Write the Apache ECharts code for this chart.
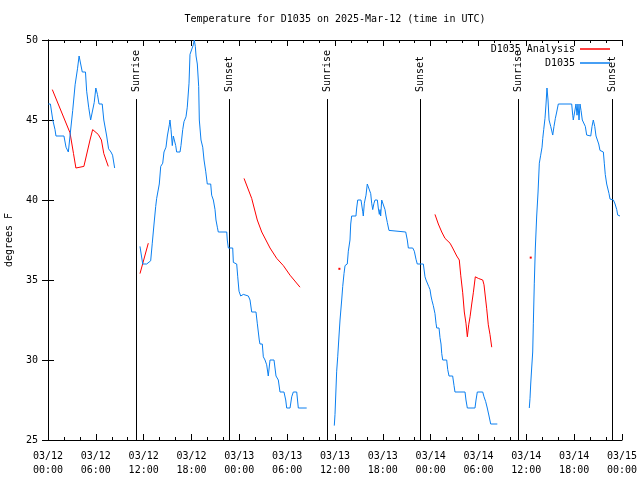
<!DOCTYPE html>
<html>
<head>
<meta charset="utf-8">
<script src="https://cdn.jsdelivr.net/npm/echarts@6/dist/echarts.min.js"></script>
<style>html,body{margin:0;padding:0;background:#fff;}#c{width:640px;height:480px;}</style>
</head>
<body>
<div id="c"></div>
<script>
// Time in hours since 2025-03-12 00:00 UTC
const obsSeg1 = [[0.04,46],[0.3,46],[0.6,45],[0.88,44.4],[1.0,44],[2.0,44],[2.26,43.3],[2.55,43],[2.76,44],[3.1,45.6],[3.4,47.2],[3.7,48.2],[3.9,49],[4.05,49],[4.3,48],[4.7,48],[4.85,46.8],[5.1,45.8],[5.35,45],[5.6,45],[5.8,46.1],[6.0,47],[6.2,46.6],[6.4,46],[6.8,46],[7.0,45],[7.36,44],[7.6,43.2],[7.9,43],[8.1,42.8],[8.3,42.7],[8.36,42]];
const obsSeg2 = [[11.54,37.1],[11.88,36],[12.38,36],[12.88,36.2],[13.08,37.3],[13.3,38.5],[13.51,39.6],[13.63,40.1],[13.96,41],[14.14,42.1],[14.39,42.3],[14.55,43],[14.8,43.3],[14.97,44],[15.22,44.7],[15.3,45],[15.43,44.4],[15.59,43.4],[15.72,44],[15.84,44.1],[16.02,43.4],[16.14,43],[16.56,43],[16.68,43.4],[16.9,44.4],[17.06,44.9],[17.19,45],[17.31,45.2],[17.47,45.8],[17.69,47.3],[17.81,49.1],[18.03,49],[18.23,49.7],[18.35,50],[18.48,49.6],[18.57,49],[18.73,48.5],[18.9,47.1],[18.98,45],[19.19,43.75],[19.41,43.3],[19.57,42.5],[19.78,41.8],[19.98,41],[20.41,41],[20.53,40.3],[20.74,40],[20.95,39.4],[21.07,38.75],[21.24,38.3],[21.36,38],[22.42,38],[22.49,37.5],[22.62,37],[23.17,37],[23.25,36.1],[23.46,36],[23.67,36],[23.8,35.2],[23.96,34.3],[24.17,34],[24.5,34.1],[25.13,34],[25.34,33.75],[25.55,33],[26.09,33],[26.25,32.3],[26.5,31.25],[26.59,31],[26.88,31],[27.01,30.2],[27.22,30],[27.43,29.7],[27.63,29],[27.85,30],[28.35,30],[28.6,29],[28.89,28.75],[29.1,28],[29.6,28],[29.82,27.5],[29.94,27],[30.36,27],[30.57,27.7],[30.77,28],[31.2,28],[31.4,27],[32.45,27]];
const obsSeg3 = [[35.91,25.9],[36.0,26.6],[36.09,27.75],[36.21,29.3],[36.34,30.2],[36.5,31.5],[36.63,32.5],[36.84,33.75],[36.97,34.6],[37.13,35.4],[37.26,35.9],[37.54,36],[37.67,36.8],[37.88,37.5],[37.97,38.5],[38.09,39],[38.63,39],[38.72,39.5],[38.85,40],[39.26,40],[39.47,39.3],[39.55,39],[39.68,39.8],[39.89,40.3],[40.05,41],[40.3,41],[40.48,40.4],[40.6,39.8],[40.73,39.4],[40.89,39.8],[41.02,40],[41.31,40],[41.43,39.5],[41.56,39.1],[41.65,39.4],[41.73,39],[41.86,40],[42.06,40],[42.27,39.4],[42.4,39],[42.56,38.6],[42.77,38.1],[42.9,38],[44.87,38],[45.07,37.5],[45.2,37],[45.75,37],[45.95,36.8],[46.16,36.3],[46.32,36],[47.08,36],[47.29,35.2],[47.42,35],[47.63,35],[47.75,34.6],[47.92,34.4],[48.04,34],[48.17,33.7],[48.33,33.4],[48.54,32.9],[48.67,32.3],[48.76,32],[49.05,32],[49.17,31.4],[49.3,31],[49.39,30.4],[49.51,30],[50.01,30],[50.14,29.4],[50.3,29],[50.76,29],[50.93,28.4],[51.05,28],[52.31,28],[52.43,27.5],[52.6,27],[53.56,27],[53.69,27.5],[53.85,28],[54.53,28],[54.69,27.7],[54.9,27.4],[55.1,27],[55.32,26.5],[55.53,26],[56.36,26]];
const obsSeg4 = [[60.37,27],[60.46,27.6],[60.55,28.5],[60.67,29.5],[60.8,30.5],[60.88,32.3],[61.0,34.8],[61.13,37],[61.3,39],[61.47,40.5],[61.63,42.3],[61.8,42.8],[61.97,43.3],[62.06,43.85],[62.18,44.4],[62.34,45.1],[62.47,46],[62.59,47],[62.72,46.25],[62.85,45],[63.06,44.6],[63.31,44.06],[63.47,44.6],[63.64,45.1],[63.81,45.5],[64.01,46],[65.69,46],[65.82,45.3],[65.89,45],[66.11,45],[66.23,46],[66.36,45.3],[66.48,46],[66.61,45],[66.73,46],[66.86,45.6],[67.02,45],[67.23,45],[67.4,44.6],[67.57,44.06],[68.08,44],[68.24,44.6],[68.4,45],[68.58,44.6],[68.74,44],[68.95,44],[69.08,43.5],[69.24,43.1],[69.66,43],[69.78,42.3],[69.9,41.6],[70.08,41],[70.2,40.9],[70.37,40.4],[70.5,40.06],[70.92,40],[71.13,39.75],[71.34,39.4],[71.46,39.06],[71.75,39]];

const anaSeg1 = [[0.54,46.9],[2.76,44.2],[3.2,42.9],[3.5,42.0],[4.5,42.1],[5.27,43.75],[5.6,44.4],[6.3,44.1],[6.7,43.75],[7.0,42.9],[7.56,42.1]];
const anaSeg2 = [[11.54,35.4],[12.58,37.3]];
const anaSeg3 = [[24.59,41.35],[25.55,40.1],[26.25,38.75],[26.81,38.0],[27.85,37.0],[28.69,36.35],[29.52,35.9],[30.36,35.3],[31.61,34.55]];
const anaPoint1 = [36.55,35.7];
const anaSeg4 = [[48.54,39.1],[48.96,38.5],[49.39,38.0],[49.8,37.6],[50.43,37.3],[50.76,37],[51.27,36.5],[51.59,36.25],[51.77,35.3],[52.02,34.2],[52.22,33.0],[52.43,32.3],[52.6,31.45],[52.77,32.2],[52.94,32.7],[53.15,33.5],[53.35,34.2],[53.6,35.2],[53.98,35.1],[54.53,35.0],[54.69,34.7],[55.03,33.2],[55.23,32.2],[55.44,31.6],[55.66,30.8]];
const anaPoint2 = [60.55,36.4];

const sunTimes = [11.0, 22.66, 35.04, 46.66, 59.0, 70.8];
const sunLabels = ['Sunrise','Sunset','Sunrise','Sunset','Sunrise','Sunset'];

const xTickDates = ['03/12','03/12','03/12','03/12','03/13','03/13','03/13','03/13','03/14','03/14','03/14','03/14','03/15'];
const xTickTimes = ['00:00','06:00','12:00','18:00','00:00','06:00','12:00','18:00','00:00','06:00','12:00','18:00','00:00'];

const FONT = 'DejaVu Sans Mono';
const GAP = [null, null];

function joinSegs(segs) {
  const out = [];
  segs.forEach((s, i) => {
    if (i > 0) out.push(GAP);
    s.forEach(p => out.push(p));
  });
  return out;
}
function dot(p) { return { value: p, symbol: 'rect', symbolSize: 2 }; }

const obsData = joinSegs([obsSeg1, obsSeg2, obsSeg3, obsSeg4]);
const anaData = [].concat(anaSeg1, [GAP], anaSeg2, [GAP], anaSeg3, [GAP], [dot(anaPoint1)], [GAP], anaSeg4, [GAP], [dot(anaPoint2)]);

const chart = echarts.init(document.getElementById('c'), null, { renderer: 'canvas' });

const xCommon = {
  type: 'value', min: 0, max: 72, interval: 6,
  axisLine: { show: true, lineStyle: { color: '#000', width: 1 } },
  axisTick: { show: true, inside: true, length: 6, lineStyle: { color: '#000' } },
  minorTick: { show: true, splitNumber: 3, length: 3, lineStyle: { color: '#000' } },
  splitLine: { show: false }
};
const yCommon = {
  type: 'value', min: 25, max: 50, interval: 5,
  axisLine: { show: true, lineStyle: { color: '#000', width: 1 } },
  axisTick: { show: true, inside: true, length: 6, lineStyle: { color: '#000' } },
  splitLine: { show: false }
};

chart.setOption({
  animation: false,
  backgroundColor: '#fff',
  title: {
    text: 'Temperature for D1035 on 2025-Mar-12 (time in UTC)',
    left: 335, top: 14, padding: 0, textAlign: 'center',
    textStyle: { fontFamily: FONT, fontSize: 10, fontWeight: 'normal', color: '#000' }
  },
  legend: {
    orient: 'vertical', align: 'right', right: 30, top: 43, padding: 0,
    itemGap: 2, itemWidth: 30, itemHeight: 1.5, icon: 'rect',
    textStyle: { fontFamily: FONT, fontSize: 10, color: '#000', lineHeight: 12 },
    data: ['D1035 Analysis', 'D1035']
  },
  grid: { left: 48, right: 18, top: 40, bottom: 40, containLabel: false, outerBoundsMode: 'none' },
  xAxis: [
    Object.assign({}, xCommon, {
      position: 'bottom',
      axisLabel: {
        margin: 9, color: '#000', fontFamily: FONT, fontSize: 10, lineHeight: 14,
        formatter: function (v) { const i = Math.round(v / 6); return xTickDates[i] + '\n' + xTickTimes[i]; }
      }
    }),
    Object.assign({}, xCommon, { position: 'top', axisLabel: { show: false } })
  ],
  yAxis: [
    Object.assign({}, yCommon, {
      position: 'left',
      name: 'degrees F', nameLocation: 'middle', nameGap: 34,
      nameTextStyle: { fontFamily: FONT, fontSize: 10, color: '#000' },
      axisLabel: { margin: 10, color: '#000', fontFamily: FONT, fontSize: 10 }
    }),
    Object.assign({}, yCommon, { position: 'right', axisLabel: { show: false } })
  ],
  series: [
    {
      name: 'D1035 Analysis', type: 'line', data: anaData,
      xAxisIndex: 0, yAxisIndex: 0,
      symbol: 'none', showSymbol: true, connectNulls: false,
      lineStyle: { color: '#ff0000', width: 1 }, itemStyle: { color: '#ff0000' },
      z: 3
    },
    {
      name: 'D1035', type: 'line', data: obsData,
      xAxisIndex: 0, yAxisIndex: 0,
      symbol: 'none', showSymbol: false, connectNulls: false,
      lineStyle: { color: '#0a7ff0', width: 1 }, itemStyle: { color: '#0a7ff0' },
      z: 3
    },
    {
      name: 'sun', type: 'custom', xAxisIndex: 0, yAxisIndex: 0,
      data: sunTimes.map(t => [t, 25]),
      renderItem: function (params, api) {
        const h = api.value(0);
        const p0 = api.coord([h, 25]);
        const p1 = api.coord([h, 46.31]);
        const pt = api.coord([h, 46.75]);
        const x = Math.round(p0[0]) + 0.5;
        return {
          type: 'group',
          children: [
            { type: 'line', shape: { x1: x, y1: p0[1], x2: x, y2: p1[1] }, style: { stroke: '#000', lineWidth: 1 } },
            { type: 'text', x: x, y: pt[1], rotation: Math.PI / 2,
              style: { text: sunLabels[params.dataIndex], font: '10px "' + FONT + '"', fill: '#000', align: 'left', verticalAlign: 'middle' } }
          ]
        };
      },
      z: 2
    }
  ]
});
</script>
</body>
</html>
